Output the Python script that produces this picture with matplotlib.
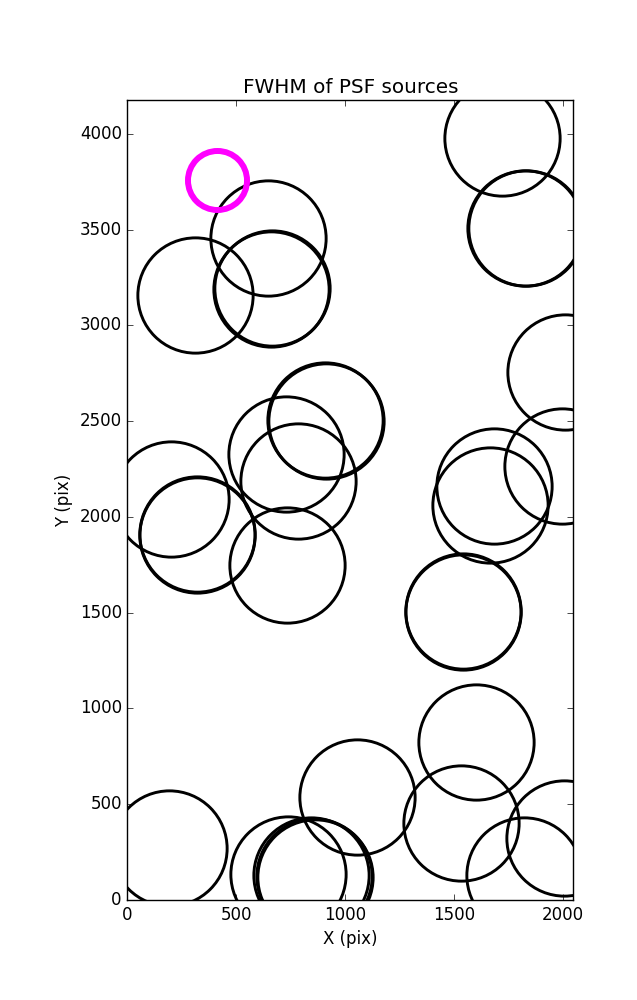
import matplotlib
matplotlib.use('Agg')
import matplotlib.pyplot as plt

plt.style.use('classic')

# source positions (pix)
src_x = [645, 310, 660, 663, 1720, 1830, 1827, 2010, 910, 907, 730, 785,
         200, 318, 321, 735, 1685, 1665, 1995, 1540, 1543, 1600, 1530,
         2005, 1820, 1055, 737, 845, 856, 862, 192]
src_y = [3455, 3160, 3190, 3193, 3980, 3510, 3507, 2755, 2500, 2503, 2330, 2185,
         2095, 1905, 1908, 1750, 2160, 2062, 2265, 1505, 1508, 825, 400,
         325, 130, 540, 135, 130, 125, 120, 272]

# highlighted source
ref_x = [410]
ref_y = [3760]

fig = plt.figure(figsize=(6.37, 10.0), dpi=100, facecolor='white')
ax = fig.add_subplot(111)
fig.subplots_adjust(left=0.2, right=0.9, bottom=0.1, top=0.9)

ax.plot(src_x, src_y, 'o', ms=83, mfc='none', mec='black', mew=2.1, ls='none')
ax.plot(ref_x, ref_y, 'o', ms=42.5, mfc='none', mec='magenta', mew=4.3, ls='none')

ax.set_xlim(0, 2048)
ax.set_ylim(0, 4176)
ax.set_xticks([0, 500, 1000, 1500, 2000])
ax.set_yticks([0, 500, 1000, 1500, 2000, 2500, 3000, 3500, 4000])

ax.set_title('FWHM of PSF sources')
ax.set_xlabel('X (pix)')
ax.set_ylabel('Y (pix)')

fig.savefig('out.png', dpi=100, facecolor='white')
